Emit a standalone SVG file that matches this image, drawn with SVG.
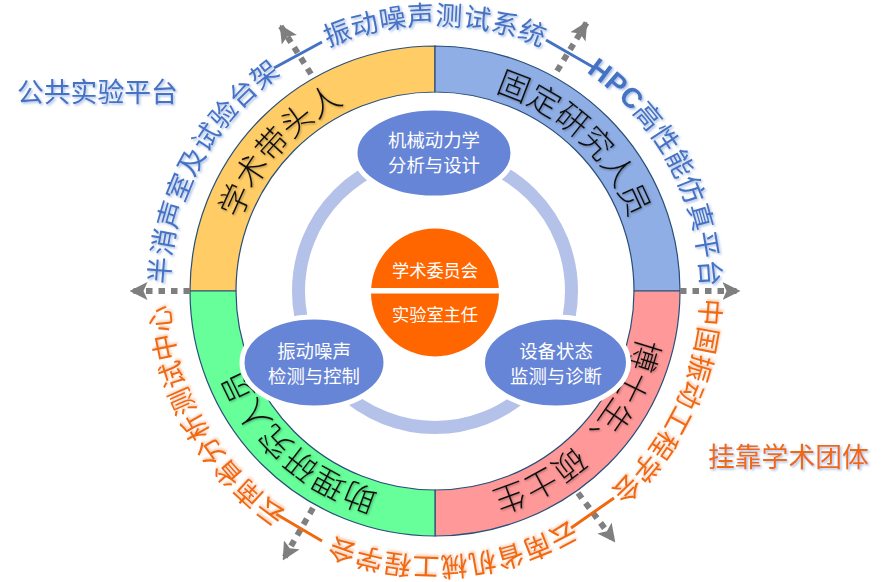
<svg xmlns="http://www.w3.org/2000/svg" width="887" height="582" viewBox="0 0 887 582">
<style>
text{font-family:"Noto Sans CJK SC","Microsoft YaHei",sans-serif}
.seg{stroke:#2a4f78;stroke-width:1.2}
.rt{font-size:32px;font-weight:300;fill:#111;filter:url(#sk);text-anchor:middle}
.ob{font-size:27px;letter-spacing:.5px;fill:#4472c4;filter:url(#sb);text-anchor:middle}
.oo{font-size:27px;letter-spacing:.5px;fill:#f0690f;filter:url(#so);text-anchor:middle}
.wt{fill:#fff;text-anchor:middle}
.e{fill:#6785d6;stroke:#fff;stroke-width:5}
.dot{fill:none;stroke:#7f7f7f;stroke-width:6;stroke-dasharray:6.5 6;marker-end:url(#ah)}
</style>
<defs>
<marker id="ah" markerUnits="userSpaceOnUse" viewBox="0 0 18 18" refX="17.5" refY="9" markerWidth="18" markerHeight="18" orient="auto"><path d="M0 0L18 9L0 18L4 9Z" fill="#7f7f7f"/></marker>
<filter id="sb" x="-10%" y="-10%" width="120%" height="120%"><feDropShadow dx="1.5" dy="1.5" stdDeviation="1.3" flood-color="#7f9fd8" flood-opacity=".7"/></filter>
<filter id="so" x="-10%" y="-10%" width="120%" height="120%"><feDropShadow dx="1" dy="-1.5" stdDeviation="1.3" flood-color="#f2a878" flood-opacity=".7"/></filter>
<filter id="sk" x="-10%" y="-10%" width="120%" height="120%"><feDropShadow dx="1" dy="1" stdDeviation="1.2" flood-color="#000" flood-opacity=".35"/></filter>
<path id="pi" d="M227 291A208 208 0 1 1 643 291A208 208 0 1 1 227 291"/>
<path id="po" d="M169 291A266 266 0 1 1 701 291A266 266 0 1 1 169 291"/>
</defs>
<g id="ring">
<path class="seg" fill="#ffcc66" d="M190 291A245 245 0 0 1 435 46L435 92A199 199 0 0 0 236 291Z"/>
<path class="seg" fill="#8eaee5" d="M435 46A245 245 0 0 1 680 291L634 291A199 199 0 0 0 435 92Z"/>
<path class="seg" fill="#ff9999" d="M680 291A245 245 0 0 1 435 536L435 490A199 199 0 0 0 634 291Z"/>
<path class="seg" fill="#66ff99" d="M435 536A245 245 0 0 1 190 291L236 291A199 199 0 0 0 435 490Z"/>
<circle cx="435" cy="291" r="136.5" fill="none" stroke="#b4c1e8" stroke-width="13"/>
</g>
<g id="connectors">
<path class="dot" d="M311 74L280 25"/>
<path class="dot" d="M557 71L587 22"/>
<path class="dot" d="M190 291L130 291"/>
<path class="dot" d="M680 291L740 291"/>
<path class="dot" d="M578 493L615 542"/>
<path class="dot" d="M313 508L283 560"/>
<path d="M274 68L322 42M546 40L593 67" stroke="#4472c4" stroke-width="3" fill="none"/>
<path d="M571 528L614 498M276 514L322 541" stroke="#f0690f" stroke-width="3" fill="none"/>
</g>
<g id="ring-labels">
<text class="rt"><textPath href="#pi" startOffset="11.7%">学术带头人</textPath></text>
<text class="rt"><textPath href="#pi" startOffset="37%">固定研究人员</textPath></text>
<text class="rt"><textPath href="#pi" startOffset="62.1%">博士生、硕士生</textPath></text>
<text class="rt"><textPath href="#pi" startOffset="86.7%">助理研究人员</textPath></text>
</g>
<g id="outer-labels">
<text class="ob"><textPath href="#po" startOffset="7.8%">半消声室及试验台架</textPath></text>
<text class="ob"><textPath href="#po" startOffset="25%">振动噪声测试系统</textPath></text>
<text class="ob"><textPath href="#po" startOffset="42.2%"><tspan font-family="Liberation Sans" font-weight="bold" font-size="28">HPC</tspan>高性能仿真平台</textPath></text>
<text class="oo"><textPath href="#po" startOffset="57%">中国振动工程学会</textPath></text>
<text class="oo"><textPath href="#po" startOffset="73.9%">云南省机械工程学会</textPath></text>
<text class="oo"><textPath href="#po" startOffset="91.8%">云南省分析测试中心</textPath></text>
</g>
<g id="n-public"><text x="17" y="102" font-size="26.8" style="fill:#4472c4;filter:url(#sb)">公共实验平台</text></g>
<g id="n-society"><text x="708" y="467" font-size="26.8" style="fill:#f0690f;filter:url(#sb)">挂靠学术团体</text></g>
<g id="n-top"><ellipse class="e" cx="434" cy="153" rx="79" ry="45"/><text class="wt" x="434" y="147" font-size="18.4">机械动力学</text><text class="wt" x="434" y="172" font-size="18.4">分析与设计</text></g>
<g id="n-left"><ellipse class="e" cx="314" cy="362.5" rx="72" ry="45.5"/><text class="wt" x="314" y="358" font-size="18.4">振动噪声</text><text class="wt" x="314" y="383" font-size="18.4">检测与控制</text></g>
<g id="n-right"><ellipse class="e" cx="555.5" cy="362.5" rx="73" ry="45.5"/><text class="wt" x="556" y="358" font-size="18.4">设备状态</text><text class="wt" x="556" y="383" font-size="18.4">监测与诊断</text></g>
<g id="n-center"><circle cx="435" cy="292.4" r="64" fill="#ff6600"/><rect x="365" y="288" width="140" height="5.5" fill="#fff"/><text class="wt" x="435" y="277" font-size="17.2">学术委员会</text><text class="wt" x="435" y="320.5" font-size="17.2">实验室主任</text></g>
</svg>
